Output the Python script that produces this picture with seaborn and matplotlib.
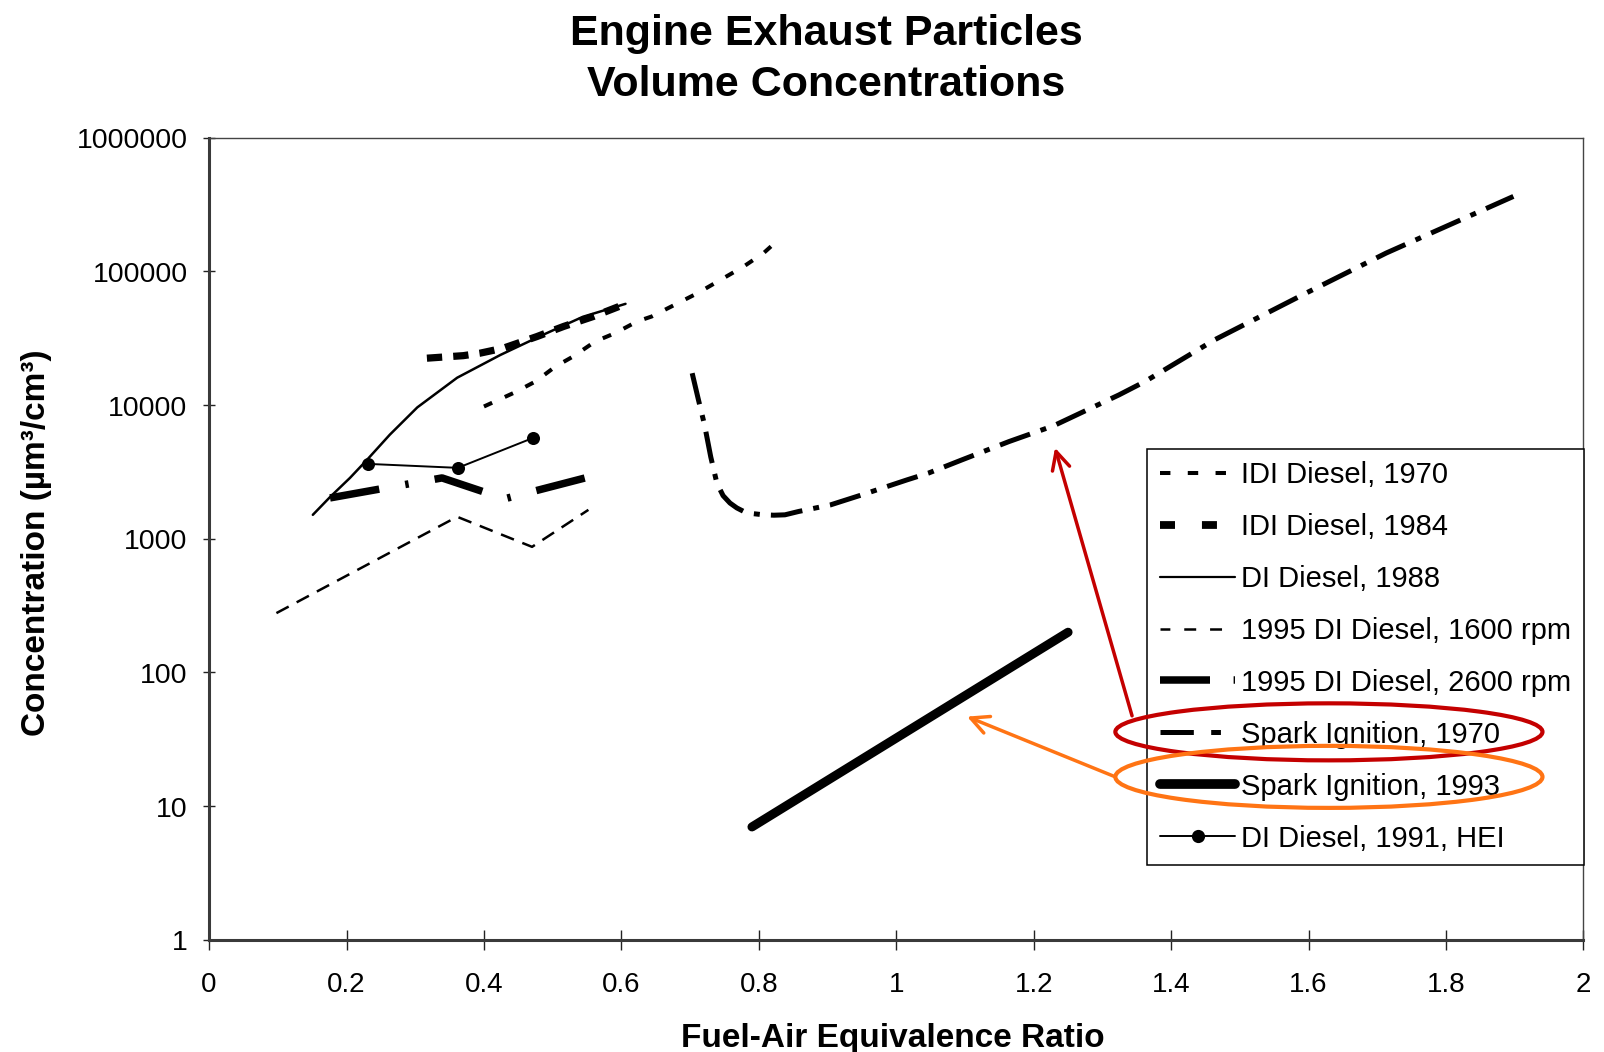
import numpy as np
import pandas as pd
import matplotlib
matplotlib.use("Agg")
import matplotlib.pyplot as plt
import seaborn as sns
from matplotlib.lines import Line2D
from matplotlib.patches import Ellipse
from matplotlib.ticker import FuncFormatter, NullLocator

# ---- data: fuel-air equivalence ratio vs. particle volume concentration ----
idi_1970_x = [0.400, 0.443, 0.475, 0.504, 0.530, 0.562, 0.591, 0.623, 0.644, 0.711, 0.778, 0.807, 0.830]
idi_1970_y = [9750, 12300, 15000, 19400, 23100, 29900, 34500, 42200, 45900, 68700, 108700, 137000, 175000]

idi_1984_x = [0.317, 0.370, 0.394, 0.428, 0.477, 0.516, 0.559, 0.603]
idi_1984_y = [22400, 23400, 24400, 26600, 32500, 38700, 45900, 56200]

di_1988_x = [0.151, 0.176, 0.205, 0.230, 0.263, 0.303, 0.361, 0.424, 0.486, 0.544, 0.606]
di_1988_y = [1510, 2050, 2850, 3900, 6000, 9600, 16000, 23700, 33500, 45700, 57100]

di_1995_1600_x = [0.098, 0.361, 0.470, 0.552]
di_1995_1600_y = [278, 1460, 870, 1645]

di_1995_2600_x = [0.176, 0.339, 0.430, 0.553]
di_1995_2600_y = [2020, 2850, 1990, 2900]

si_1970_x = [0.703, 0.712, 0.721, 0.730, 0.739, 0.748, 0.758, 0.768, 0.778, 0.792, 0.807, 0.822,
             0.838, 0.858, 0.904, 0.950, 1.016, 1.047, 1.095, 1.164, 1.229, 1.324, 1.362, 1.463,
             1.597, 1.713, 1.898]
si_1970_y = [17300, 11000, 7100, 4100, 2600, 2100, 1850, 1700, 1600, 1540, 1510, 1500,
             1510, 1600, 1790, 2130, 2760, 3100, 3880, 5330, 7000, 11900, 15000, 30700,
             69000, 137000, 363000]

si_1993_x = [0.79, 1.25]
si_1993_y = [7, 200]

hei_1991_x = [0.231, 0.362, 0.472]
hei_1991_y = [3630, 3390, 5690]

labels = ["IDI Diesel, 1970", "IDI Diesel, 1984", "DI Diesel, 1988",
          "1995 DI Diesel, 1600 rpm", "1995 DI Diesel, 2600 rpm",
          "Spark Ignition, 1970", "Spark Ignition, 1993", "DI Diesel, 1991, HEI"]
xs = [idi_1970_x, idi_1984_x, di_1988_x, di_1995_1600_x, di_1995_2600_x, si_1970_x, si_1993_x, hei_1991_x]
ys = [idi_1970_y, idi_1984_y, di_1988_y, di_1995_1600_y, di_1995_2600_y, si_1970_y, si_1993_y, hei_1991_y]

y_ticks = [1, 10, 100, 1000, 10000, 100000, 1000000]
x_ticks = [0, 0.2, 0.4, 0.6, 0.8, 1.0, 1.2, 1.4, 1.6, 1.8, 2.0]

df = pd.concat(
    [pd.DataFrame({"ratio": x, "conc": y, "source": lab}) for lab, x, y in zip(labels, xs, ys)],
    ignore_index=True,
)

# ---- line styles (dash lengths in points) ----
plot_styles = {
    "IDI Diesel, 1970": dict(linewidth=2.9, linestyle=(0, (6.5, 10.0))),
    "IDI Diesel, 1984": dict(linewidth=5.2, linestyle=(0, (11.0, 8.0))),
    "DI Diesel, 1988": dict(linewidth=1.8, linestyle="-"),
    "1995 DI Diesel, 1600 rpm": dict(linewidth=1.8, linestyle=(0, (10.0, 6.5))),
    "1995 DI Diesel, 2600 rpm": dict(linewidth=5.4, linestyle=(0, (36.0, 19.0, 2.5, 19.0))),
    "Spark Ignition, 1970": dict(linewidth=3.6, linestyle=(0, (23.0, 8.0, 4.3, 8.0))),
    "Spark Ignition, 1993": dict(linewidth=6.5, linestyle="-", solid_capstyle="round"),
    "DI Diesel, 1991, HEI": dict(linewidth=1.4, linestyle="-", marker="o", markersize=9.4,
                                 markeredgewidth=0),
}
legend_styles = {
    "IDI Diesel, 1970": dict(lw=2.9, ls=(0, (7.5, 12.5))),
    "IDI Diesel, 1984": dict(lw=5.6, ls=(0, (10.8, 19.4))),
    "DI Diesel, 1988": dict(lw=1.6, ls="-"),
    "1995 DI Diesel, 1600 rpm": dict(lw=1.8, ls=(1.5, (8.6, 10.0))),
    "1995 DI Diesel, 2600 rpm": dict(lw=5.4, ls=(0, (36.0, 17.0, 2.2, 18.0))),
    "Spark Ignition, 1970": dict(lw=3.6, ls=(0, (24.0, 12.5, 7.0, 13.0))),
    "Spark Ignition, 1993": dict(lw=7.0, ls="-"),
    "DI Diesel, 1991, HEI": dict(lw=1.4, ls="-", marker="o", markersize=9.5, markeredgewidth=0),
}

sns.set_style("ticks")
plt.rcParams["font.family"] = ["Liberation Sans", "DejaVu Sans"]
plt.rcParams["lines.scale_dashes"] = False
plt.rcParams["text.color"] = "black"
plt.rcParams["axes.labelcolor"] = "black"
plt.rcParams["xtick.labelcolor"] = "black"
plt.rcParams["ytick.labelcolor"] = "black"

W, H = 1604, 1052
fig = plt.figure(figsize=(16.045, 10.525), dpi=100, facecolor="white")
ax_l, ax_r, ax_t, ax_b = 209, 1583, 138, 940
ax = fig.add_axes([ax_l / W, 1 - ax_b / H, (ax_r - ax_l) / W, (ax_b - ax_t) / H])
ax.set_facecolor("white")

for lab in labels:
    sns.lineplot(data=df[df["source"] == lab], x="ratio", y="conc", ax=ax, color="black",
                 sort=False, estimator=None, legend=False, **plot_styles[lab])

ax.set_yscale("log")
ax.set_xlim(0, 2)
ax.set_ylim(1, 1e6)
ax.set_yticks(y_ticks)
ax.yaxis.set_major_formatter(FuncFormatter(lambda v, p: f"{v:.0f}"))
ax.yaxis.set_minor_locator(NullLocator())
ax.set_xticks(x_ticks)
ax.xaxis.set_major_formatter(FuncFormatter(lambda v, p: f"{v:g}"))

ax.tick_params(axis="x", direction="inout", length=14, width=1.0, pad=16, labelsize=20,
               color="#222222", labelcolor="black")
ax.tick_params(axis="y", direction="inout", length=9, width=1.0, pad=11, labelsize=20.5,
               color="#222222", labelcolor="black")

for side in ("left", "bottom"):
    ax.spines[side].set_linewidth(2.2)
    ax.spines[side].set_color("#3a3a3a")
for side in ("top", "right"):
    ax.spines[side].set_visible(True)
    ax.spines[side].set_linewidth(1.0)
    ax.spines[side].set_color("#444444")

ax.set_xlabel("Fuel-Air Equivalence Ratio", fontsize=24, fontweight="bold", color="black")
ax.set_ylabel("Concentration (µm³/cm³)", fontsize=24, fontweight="bold", color="black")
aw, ah = ax_r - ax_l, ax_b - ax_t
ax.xaxis.set_label_coords((893 - ax_l) / aw, (ax_b - 1023) / ah)
ax.yaxis.set_label_coords((52 - ax_l) / aw, (ax_b - 542) / ah)

fig.text(826 / W, 1 - 45 / H, "Engine Exhaust Particles", ha="center", va="baseline",
         fontsize=31, fontweight="bold", color="black")
fig.text(826 / W, 1 - 96 / H, "Volume Concentrations", ha="center", va="baseline",
         fontsize=31, fontweight="bold", color="black")

# ---- legend ----
handles = [Line2D([0], [0], color="black", **legend_styles[lab]) for lab in labels]
leg = ax.legend(handles, labels, loc="upper left",
                bbox_to_anchor=((1147 - ax_l) / aw, (ax_b - 449) / ah),
                borderaxespad=0, fontsize=21, frameon=True, fancybox=False, framealpha=1,
                edgecolor="black", handlelength=2.6, handletextpad=0.2,
                labelspacing=0.82, borderpad=0.42, numpoints=1)
leg.get_frame().set_linewidth(1.1)
for t in leg.get_texts():
    t.set_color("black")
leg.set_zorder(5)

# ---- highlight ellipses and arrows ----
red, orange = "#c40000", "#ff7414"
ell_red = Ellipse(((1328.5 - ax_l) / aw, (ax_b - 732) / ah), 427 / aw, 57 / ah,
                  transform=ax.transAxes, fill=False, edgecolor=red, linewidth=3.0,
                  zorder=7, clip_on=False)
ell_orange = Ellipse(((1328.5 - ax_l) / aw, (ax_b - 777) / ah), 427 / aw, 62 / ah,
                     transform=ax.transAxes, fill=False, edgecolor=orange, linewidth=3.0,
                     zorder=7, clip_on=False)
ax.add_patch(ell_red)
ax.add_patch(ell_orange)

arrow_kw = dict(arrowstyle="->", lw=2.5, mutation_scale=32, shrinkA=0, shrinkB=0)
ax.annotate("", xy=(1.231, 4790), xycoords="data",
            xytext=((1131.7 - ax_l) / aw, (ax_b - 716) / ah), textcoords="axes fraction",
            arrowprops=dict(color=red, **arrow_kw), annotation_clip=False, zorder=8)
ax.annotate("", xy=(1.103, 46.8), xycoords="data",
            xytext=((1115 - ax_l) / aw, (ax_b - 777) / ah), textcoords="axes fraction",
            arrowprops=dict(color=orange, **arrow_kw), annotation_clip=False, zorder=8)

fig.savefig("out.png", dpi=100, facecolor="white")
